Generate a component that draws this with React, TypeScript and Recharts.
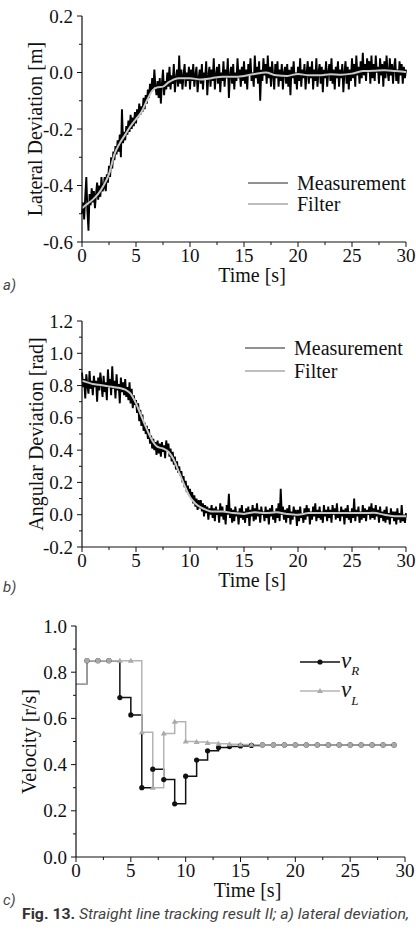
import { LineChart, Line, XAxis, YAxis, Legend, Label } from "recharts";

const SAMPLE_STEP = 0.1; // measurement sample spacing [s]

// a) lateral deviation [m], one sample every 0.1 s, 0..30 s
const lateralMeasured = [
  -0.50, -0.46, -0.52, -0.44, -0.37, -0.49, -0.56, -0.43, -0.47, -0.41,
  -0.46, -0.42, -0.48, -0.43, -0.39, -0.45, -0.40, -0.44, -0.37, -0.42,
  -0.41, -0.37, -0.42, -0.36, -0.39, -0.33, -0.37, -0.30, -0.34, -0.28,
  -0.31, -0.26, -0.29, -0.24, -0.28, -0.22, -0.30, -0.13, -0.25, -0.21,
  -0.24, -0.19, -0.22, -0.17, -0.21, -0.15, -0.20, -0.16, -0.19, -0.14,
  -0.18, -0.13, -0.16, -0.11, -0.15, -0.12, -0.14, -0.09, -0.13, -0.08,
  -0.11, -0.06, -0.09, -0.04, -0.07, -0.02, -0.06, 0.01, -0.05, -0.08,
  -0.03, -0.09, -0.02, -0.11, -0.04, 0.01, -0.08, -0.03, -0.06, 0.0,
  -0.05, 0.02, -0.06, -0.01, -0.04, 0.03, -0.07, -0.02, 0.01, -0.05,
  0.06, -0.04, 0.01, -0.06, -0.01, 0.03, -0.05, 0.0, -0.03, 0.02,
  -0.06, 0.01, -0.03, 0.03, -0.05, -0.01, 0.02, -0.07, -0.02, 0.01,
  -0.04, 0.03, -0.06, 0.0, -0.02, 0.04, -0.08, -0.01, 0.02, -0.05,
  0.01, -0.03, 0.05, -0.06, -0.01, 0.02, -0.04, 0.03, -0.07, 0.0,
  -0.03, 0.04, -0.05, 0.01, -0.02, 0.05, -0.09, -0.01, 0.02, -0.04,
  0.03, -0.06, 0.0, -0.03, 0.05, -0.02, 0.01, -0.05, 0.02, -0.03,
  0.04, -0.04, 0.01, -0.06, 0.03, -0.01, 0.05, -0.03, 0.0, -0.05,
  0.06, -0.02, 0.02, -0.04, 0.04, -0.10, 0.01, -0.03, 0.05, -0.01,
  0.03, -0.04, 0.06, -0.02, 0.02, -0.05, 0.04, -0.01, -0.06, 0.03,
  -0.02, 0.04, -0.05, 0.01, -0.03, 0.03, -0.06, 0.0, 0.02, -0.04,
  0.03, -0.05, 0.01, -0.08, 0.02, -0.02, 0.04, -0.04, 0.0, -0.06,
  0.02, -0.03, 0.05, -0.05, 0.01, -0.02, 0.03, -0.06, 0.0, 0.04,
  -0.04, 0.02, -0.02, 0.04, -0.06, 0.01, -0.03, 0.05, -0.05, 0.0,
  0.03, -0.04, 0.02, -0.07, 0.01, -0.02, 0.04, -0.05, 0.0, 0.03,
  -0.03, 0.05, -0.04, 0.01, -0.06, 0.02, -0.02, 0.04, -0.05, 0.01,
  -0.02, 0.03, -0.07, 0.0, 0.04, -0.04, 0.02, -0.06, 0.01, -0.03,
  0.05, -0.02, 0.03, -0.05, 0.06, -0.01, 0.02, -0.04, 0.04, -0.02,
  0.07, -0.01, 0.03, -0.03, 0.05, 0.0, 0.04, -0.04, 0.06, -0.02,
  0.03, -0.03, 0.06, 0.0, 0.02, -0.04, 0.05, -0.01, 0.03, -0.05,
  0.04, -0.02, 0.06, 0.0, -0.03, 0.05, -0.01, 0.03, -0.04, 0.02,
  0.05, -0.03, 0.01, -0.04, 0.04, -0.01, 0.03, -0.04, 0.02, -0.02,
  0.01,
];

const lateralFilterTime = [
  0, 0.5, 1, 1.5, 2, 2.5, 3, 3.5, 4, 4.5, 5, 5.5, 6, 6.5, 7, 7.5, 8, 9, 10,
  11, 12, 13, 14, 15, 16, 17, 18, 19, 20, 21, 22, 23, 24, 25, 26, 27, 28, 29, 30,
];
const lateralFilter = [
  -0.48, -0.465, -0.45, -0.43, -0.4, -0.36, -0.29, -0.25, -0.22, -0.19, -0.165,
  -0.14, -0.1, -0.065, -0.052, -0.05, -0.035, -0.02, -0.02, -0.025, -0.02,
  -0.015, -0.015, -0.012, -0.005, 0.0, -0.01, -0.012, -0.005, -0.01, -0.01,
  -0.006, -0.008, -0.004, 0.005, 0.006, 0.008, 0.005, 0.002,
];

// b) angular deviation [rad], one sample every 0.1 s, 0..30 s
const angularMeasured = [
  0.88, 0.79, 0.84, 0.72, 0.87, 0.80, 0.75, 0.89, 0.78, 0.83,
  0.74, 0.86, 0.79, 0.83, 0.70, 0.85, 0.77, 0.88, 0.81, 0.73,
  0.86, 0.76, 0.82, 0.71, 0.90, 0.79, 0.84, 0.74, 0.92, 0.78,
  0.83, 0.72, 0.87, 0.77, 0.81, 0.69, 0.85, 0.76, 0.82, 0.74,
  0.84, 0.73, 0.79, 0.71, 0.82, 0.69, 0.78, 0.66, 0.74, 0.68,
  0.71, 0.63, 0.69, 0.58, 0.65, 0.55, 0.62, 0.52, 0.57, 0.50,
  0.55, 0.47, 0.53, 0.44, 0.49, 0.41, 0.47, 0.40, 0.45, 0.37,
  0.46, 0.38, 0.44, 0.36, 0.45, 0.39, 0.43, 0.35, 0.46, 0.40,
  0.44, 0.36, 0.41, 0.33, 0.39, 0.31, 0.36, 0.28, 0.33, 0.26,
  0.30, 0.24, 0.27, 0.20, 0.24, 0.17, 0.21, 0.14, 0.18, 0.12,
  0.16, 0.10, 0.14, 0.07, 0.12, 0.05, 0.10, 0.03, 0.09, 0.04,
  0.09, 0.02, 0.07, -0.01, 0.06, 0.01, 0.05, -0.03, 0.04, 0.0,
  0.06, -0.02, 0.04, -0.04, 0.05, 0.0, 0.03, -0.05, 0.07, -0.01,
  0.05, -0.03, 0.02, -0.06, 0.06, 0.0, 0.13, -0.02, 0.04, -0.05,
  0.03, -0.04, 0.05, -0.01, 0.02, -0.06, 0.04, -0.02, 0.06, -0.03,
  0.02, -0.05, 0.04, -0.02, 0.05, -0.07, 0.03, -0.01, 0.06, -0.04,
  0.04, -0.03, 0.07, -0.01, 0.03, -0.05, 0.05, 0.0, 0.02, -0.04,
  0.05, -0.02, 0.03, -0.06, 0.04, -0.01, 0.06, -0.03, 0.02, -0.05,
  0.04, -0.02, 0.07, -0.04, 0.16, 0.0, 0.05, -0.03, 0.03, -0.05,
  0.04, -0.02, 0.06, -0.06, 0.02, -0.03, 0.05, -0.01, 0.03, -0.07,
  0.03, -0.04, 0.05, -0.02, 0.01, -0.05, 0.04, -0.03, 0.06, -0.01,
  0.04, -0.06, 0.02, -0.03, 0.05, -0.01, 0.07, -0.04, 0.03, -0.02,
  0.05, -0.03, 0.02, -0.05, 0.06, -0.01, 0.03, -0.04, 0.05, -0.02,
  0.03, -0.05, 0.06, 0.0, 0.04, -0.03, 0.07, -0.02, 0.02, -0.04,
  0.05, -0.01, 0.03, -0.06, 0.04, -0.02, 0.06, -0.03, 0.02, -0.05,
  0.04, -0.02, 0.10, -0.04, 0.03, -0.01, 0.05, -0.05, 0.02, -0.03,
  0.06, -0.02, 0.04, -0.04, 0.03, 0.0, 0.05, -0.03, 0.07, -0.02,
  0.04, -0.03, 0.06, -0.01, 0.03, -0.05, 0.05, -0.02, 0.02, -0.04,
  0.03, -0.05, 0.05, -0.03, 0.01, -0.06, 0.04, -0.02, 0.02, -0.04,
  0.02, -0.06, 0.04, -0.03, 0.01, -0.05, 0.06, -0.04, 0.0, -0.05,
  0.01,
];

const angularFilterTime = [
  0, 0.5, 1, 1.5, 2, 2.5, 3, 3.5, 4, 4.5, 5, 5.5, 6, 6.5, 7, 7.5, 8, 8.5, 9,
  9.5, 10, 10.5, 11, 11.5, 12, 13, 14, 15, 16, 17, 18, 19, 20, 21, 22, 23, 24,
  25, 26, 27, 28, 29, 30,
];
const angularFilter = [
  0.83, 0.82, 0.81, 0.805, 0.8, 0.795, 0.79, 0.785, 0.775, 0.75, 0.69, 0.61,
  0.53, 0.46, 0.42, 0.41, 0.39, 0.34, 0.26, 0.18, 0.11, 0.07, 0.045, 0.03,
  0.02, 0.02, 0.01, 0.005, 0.015, 0.01, 0.015, 0.005, 0.0, 0.01, 0.01, 0.01,
  0.01, 0.01, 0.01, 0.012, 0.0, -0.01, -0.01,
];

// c) wheel velocities [r/s], one command per second
const velocityTime = [
  0, 1, 2, 3, 4, 5, 6, 7, 8, 9, 10, 11, 12, 13, 14, 15, 16, 17, 18, 19, 20,
  21, 22, 23, 24, 25, 26, 27, 28, 29,
];
const velocityRight = [
  0.75, 0.85, 0.85, 0.85, 0.69, 0.615, 0.3, 0.38, 0.335, 0.23, 0.35, 0.42,
  0.46, 0.474, 0.478, 0.481, 0.483, 0.485, 0.485, 0.485, 0.485, 0.485, 0.485,
  0.485, 0.485, 0.485, 0.485, 0.485, 0.485, 0.485,
];
const velocityLeft = [
  0.75, 0.85, 0.85, 0.85, 0.85, 0.85, 0.54, 0.3, 0.535, 0.585, 0.5, 0.498,
  0.494, 0.49, 0.488, 0.487, 0.486, 0.485, 0.485, 0.485, 0.485, 0.485, 0.485,
  0.485, 0.485, 0.485, 0.485, 0.485, 0.485, 0.485,
];

const timeTicks = [0, 2.5, 5, 7.5, 10, 12.5, 15, 17.5, 20, 22.5, 25, 27.5, 30];
const lateralTicks = [-0.6, -0.5, -0.4, -0.3, -0.2, -0.1, 0, 0.1, 0.2];
const angularTicks = [-0.2, -0.1, 0, 0.1, 0.2, 0.3, 0.4, 0.5, 0.6, 0.7, 0.8, 0.9, 1.0, 1.1, 1.2];
const velocityTicks = [0, 0.1, 0.2, 0.3, 0.4, 0.5, 0.6, 0.7, 0.8, 0.9, 1.0];

const SERIF = '"Liberation Serif", "Times New Roman", Times, serif';
const SANS = '"Liberation Sans Narrow", Roboto, "Liberation Sans", sans-serif';
const INK = "#111";

const sampled = (values: number[]) =>
  values.map((v, i) => ({ t: Math.round(i * SAMPLE_STEP * 10) / 10, v }));
const paired = (times: number[], values: number[]) =>
  times.map((t, i) => ({ t, v: values[i] }));

const velocityData = velocityTime.map((t, i) => ({
  t,
  right: velocityRight[i],
  left: velocityLeft[i],
}));

function TimeTick(props: any) {
  const { x, y, payload } = props;
  const major = payload.value % 5 === 0;
  return (
    <g>
      <line x1={x} x2={x} y1={y} y2={y + (major ? 5 : 3)} stroke={INK} strokeWidth={1} />
      {major && (
        <text
          x={x}
          y={y + 20}
          textAnchor="middle"
          fontFamily={SERIF}
          style={{ fontFamily: SERIF, fontWeight: 400 }}
          fontSize={19}
          fill={INK}
        >
          {payload.value}
        </text>
      )}
    </g>
  );
}

function ValueTick(props: any) {
  const { x, y, payload } = props;
  const major = Math.round(payload.value * 10) % 2 === 0;
  return (
    <g>
      <line x1={x - (major ? 5 : 3)} x2={x} y1={y} y2={y} stroke={INK} strokeWidth={1} />
      {major && (
        <text
          x={x - 9}
          y={y + 6.5}
          textAnchor="end"
          fontFamily={SERIF}
          style={{ fontFamily: SERIF, fontWeight: 400 }}
          fontSize={19}
          fill={INK}
        >
          {payload.value.toFixed(1)}
        </text>
      )}
    </g>
  );
}

const xTitle = (dx: number) => (props: any) => {
  const { x, y, width } = props.viewBox;
  return (
    <text
      x={x + width / 2 + dx}
      y={y + 40}
      textAnchor="middle"
      fontFamily={SERIF}
      style={{ fontFamily: SERIF, fontWeight: 400 }}
      fontSize={20}
      fill={INK}
    >
      {props.value}
    </text>
  );
};

const yTitle = (bx: number) => (props: any) => {
  const { y, height } = props.viewBox;
  const cy = y + height / 2;
  return (
    <text
      x={bx}
      y={cy}
      transform={`rotate(-90 ${bx} ${cy})`}
      textAnchor="middle"
      fontFamily={SERIF}
      style={{ fontFamily: SERIF, fontWeight: 400 }}
      fontSize={20}
      fill={INK}
    >
      {props.value}
    </text>
  );
};

function NoiseKey({ gap }: { gap: number }) {
  const items = [
    { label: "Measurement", color: "#6c6c6c" },
    { label: "Filter", color: "#a9a9a9" },
  ];
  return (
    <svg width={175} height={gap + 24} style={{ display: "block", overflow: "visible" }}>
      {items.map((it, i) => (
        <g key={it.label}>
          <line x1={0} x2={40} y1={10 + i * gap} y2={10 + i * gap} stroke={it.color} strokeWidth={1.4} />
          <text x={49} y={17 + i * gap} style={{ fontFamily: SERIF }} fontSize={20} fill={INK}>
            {it.label}
          </text>
        </g>
      ))}
    </svg>
  );
}

function VelocityKey() {
  return (
    <svg width={80} height={60} style={{ display: "block", overflow: "visible" }}>
      <line x1={0} x2={40} y1={10} y2={10} stroke={INK} strokeWidth={1.5} />
      <circle cx={20} cy={10} r={2.6} fill={INK} />
      <text x={41} y={16} style={{ fontFamily: SERIF, fontStyle: "italic" }} fontSize={23} fill={INK}>
        v<tspan fontSize={13} dy={7}>R</tspan>
      </text>
      <line x1={0} x2={40} y1={39} y2={39} stroke="#b4b4b4" strokeWidth={1.5} />
      <path d="M20 36 L23 41 L17 41 Z" fill="#aaa" />
      <text x={41} y={45} style={{ fontFamily: SERIF, fontStyle: "italic" }} fontSize={23} fill={INK}>
        v<tspan fontSize={13} dy={8}>L</tspan>
      </text>
    </svg>
  );
}

function RightDot(p: any) {
  if (p.index === 0) return <g key={`r${p.index}`} />;
  return <circle key={`r${p.index}`} cx={p.cx} cy={p.cy} r={2.6} fill={INK} />;
}

function LeftDot(p: any) {
  if (p.index === 0) return <g key={`l${p.index}`} />;
  const shared = Math.abs(velocityLeft[p.index] - velocityRight[p.index]) < 0.002;
  if (shared) return <circle key={`l${p.index}`} cx={p.cx} cy={p.cy} r={2.6} fill="#a8a8a8" />;
  return (
    <path
      key={`l${p.index}`}
      d={`M${p.cx} ${p.cy - 3} L${p.cx + 3} ${p.cy + 2} L${p.cx - 3} ${p.cy + 2} Z`}
      fill="#aaa"
    />
  );
}

const axisLine = { stroke: INK, strokeWidth: 1.2 };

function NoisyPanel(props: {
  height: number;
  top: number;
  measured: number[];
  filter: { t: number; v: number }[];
  domain: [number, number];
  ticks: number[];
  yLabel: string;
  yLabelX: number;
  keyLeft: number;
  keyTop: number;
  keyGap: number;
}) {
  return (
    <LineChart width={416} height={props.height} margin={{ top: props.top, right: 10, bottom: 18, left: 0 }}>
      <XAxis
        type="number"
        dataKey="t"
        domain={[0, 30]}
        ticks={timeTicks}
        interval={0}
        height={40}
        tickSize={0}
        tickMargin={0}
        tickLine={false}
        axisLine={axisLine}
        tick={TimeTick}
      >
        <Label value="Time [s]" content={xTitle(8)} />
      </XAxis>
      <YAxis
        type="number"
        domain={props.domain}
        ticks={props.ticks}
        interval={0}
        width={82}
        tickSize={0}
        tickMargin={0}
        tickLine={false}
        axisLine={axisLine}
        tick={ValueTick}
      >
        <Label value={props.yLabel} content={yTitle(props.yLabelX)} />
      </YAxis>
      <Legend
        layout="vertical"
        align="center"
        verticalAlign="middle"
        wrapperStyle={{ left: props.keyLeft, top: props.keyTop, width: 175 }}
        content={() => <NoiseKey gap={props.keyGap} />}
      />
      <Line
        data={sampled(props.measured)}
        dataKey="v"
        name="Measurement"
        type="linear"
        stroke="#000"
        strokeWidth={1.9}
        strokeLinejoin="miter"
        dot={false}
        isAnimationActive={false}
      />
      <Line
        data={props.filter}
        dataKey="v"
        name="Filter"
        type="monotone"
        stroke="#c8c8c8"
        strokeWidth={2}
        dot={false}
        isAnimationActive={false}
      />
    </LineChart>
  );
}

export default function App() {
  return (
    <div
      style={{
        position: "absolute",
        left: 0,
        top: 0,
        width: 416,
        height: 930,
        background: "#fff",
        overflow: "hidden",
      }}
    >
      <div style={{ position: "absolute", left: 0, top: 0 }}>
        <NoisyPanel
          height={300}
          top={16}
          measured={lateralMeasured}
          filter={paired(lateralFilterTime, lateralFilter)}
          domain={[-0.6, 0.2]}
          ticks={lateralTicks}
          yLabel="Lateral Deviation [m]"
          yLabelX={42}
          keyLeft={248}
          keyTop={173}
          keyGap={21}
        />
      </div>
      <div style={{ position: "absolute", left: 0, top: 300 }}>
        <NoisyPanel
          height={305}
          top={21}
          measured={angularMeasured}
          filter={paired(angularFilterTime, angularFilter)}
          domain={[-0.2, 1.2]}
          ticks={angularTicks}
          yLabel="Angular Deviation [rad]"
          yLabelX={43}
          keyLeft={245}
          keyTop={38}
          keyGap={23}
        />
      </div>
      <div style={{ position: "absolute", left: 0, top: 605 }}>
        <LineChart width={416} height={305} data={velocityData} margin={{ top: 21, right: 11, bottom: 13, left: 0 }}>
          <XAxis
            type="number"
            dataKey="t"
            domain={[0, 30]}
            ticks={timeTicks}
            interval={0}
            height={40}
            tickSize={0}
            tickMargin={0}
            tickLine={false}
            axisLine={axisLine}
            tick={TimeTick}
          >
            <Label value="Time [s]" content={xTitle(7)} />
          </XAxis>
          <YAxis
            type="number"
            domain={[0, 1]}
            ticks={velocityTicks}
            interval={0}
            width={76}
            tickSize={0}
            tickMargin={0}
            tickLine={false}
            axisLine={axisLine}
            tick={ValueTick}
          >
            <Label value="Velocity [r/s]" content={yTitle(36)} />
          </YAxis>
          <Legend
            layout="vertical"
            align="center"
            verticalAlign="middle"
            wrapperStyle={{ left: 300, top: 47, width: 80 }}
            content={() => <VelocityKey />}
          />
          <Line
            dataKey="right"
            name="vR"
            type="stepAfter"
            stroke={INK}
            strokeWidth={1.5}
            dot={RightDot}
            isAnimationActive={false}
          />
          <Line
            dataKey="left"
            name="vL"
            type="stepAfter"
            stroke="#b4b4b4"
            strokeWidth={1.5}
            dot={LeftDot}
            isAnimationActive={false}
          />
        </LineChart>
      </div>
      <svg
        width={416}
        height={930}
        style={{ position: "absolute", left: 0, top: 0, pointerEvents: "none" }}
      >
        <g style={{ fontFamily: SANS, fontStyle: "italic" }} fontSize={15} fill="#444">
          <text x={3} y={290}>a)</text>
          <text x={3} y={592}>b)</text>
          <text x={3} y={905}>c)</text>
        </g>
        <text
          x={22}
          y={919}
          style={{ fontFamily: SANS }}
          fontSize={15}
          fill="#333"
          textLength={387}
          lengthAdjust="spacingAndGlyphs"
        >
          <tspan fontWeight="bold">Fig. 13.</tspan>
          <tspan fontStyle="italic" fill="#444">
            {"  Straight line tracking result II; a) lateral deviation,"}
          </tspan>
        </text>
      </svg>
    </div>
  );
}
